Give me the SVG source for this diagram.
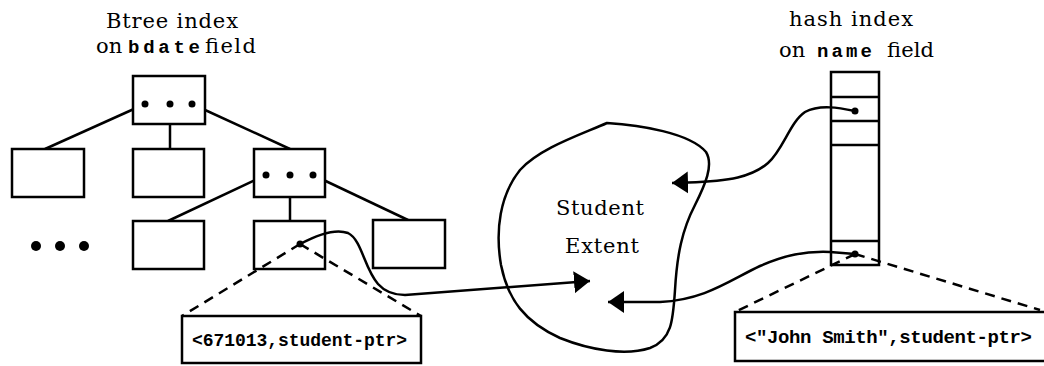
<svg xmlns="http://www.w3.org/2000/svg" width="1044" height="366" viewBox="0 0 1044 366">
<style>
  .box { fill: #fff; stroke: #000; stroke-width: 2.5; }
  .ln { fill: none; stroke: #000; stroke-width: 2.5; }
  .dash { fill: none; stroke: #000; stroke-width: 2.5; stroke-dasharray: 10 7; }
  .dot { fill: #000; }
  .serif { font-family: "DejaVu Serif", "Liberation Serif", serif; font-size: 21px; fill: #000; }
  .mono { font-family: "Liberation Mono", "DejaVu Sans Mono", monospace; font-weight: bold; fill: #000; }
</style>
<defs>
  <marker id="arr" markerUnits="userSpaceOnUse" markerWidth="18" markerHeight="24" refX="16" refY="11" orient="auto">
    <path d="M0,0 L16,11 L0,22 Z" fill="#000"/>
  </marker>
</defs>

<g id="btree-title">
  <text class="serif" x="106" y="28" textLength="132" lengthAdjust="spacing">Btree index</text>
  <text class="serif" x="96" y="53">on</text>
  <text class="mono" x="128" y="53" font-size="19" textLength="72" lengthAdjust="spacing">bdate</text>
  <text class="serif" x="205" y="53" textLength="51" lengthAdjust="spacing">field</text>
</g>

<g id="hash-title">
  <text class="serif" x="789" y="26" textLength="124" lengthAdjust="spacing">hash index</text>
  <text class="serif" x="779" y="57">on</text>
  <text class="mono" x="817" y="57" font-size="19" textLength="55" lengthAdjust="spacing">name</text>
  <text class="serif" x="887" y="57" textLength="47" lengthAdjust="spacing">field</text>
</g>

<g id="connectors">
  <line class="ln" x1="145" y1="104" x2="45" y2="149"/>
  <line class="ln" x1="170" y1="104" x2="170" y2="149"/>
  <line class="ln" x1="192" y1="104" x2="290" y2="149"/>
  <line class="ln" x1="266" y1="175" x2="168" y2="221"/>
  <line class="ln" x1="290" y1="175" x2="290" y2="221"/>
  <line class="ln" x1="313" y1="175" x2="408" y2="220"/>
  <path class="ln" d="M300,244 C315,236 335,228 348,233 C362,240 364,268 378,284 C386,293 395,295 405,295 L590,281" marker-end="url(#arr)"/>
  <path class="ln" d="M855,111 C840,108 820,104 805,112 C790,122 783,150 768,163 C752,177 730,181 688,182.5 L672,183" marker-end="url(#arr)"/>
  <path class="ln" d="M855,254 L830,252 C805,251 785,255 760,266 C730,280 705,300 660,302 L608,302" marker-end="url(#arr)"/>
  <line class="dash" x1="300" y1="244" x2="182" y2="316"/>
  <line class="dash" x1="300" y1="244" x2="421" y2="316"/>
  <line class="dash" x1="855" y1="254" x2="735" y2="312"/>
  <line class="dash" x1="855" y1="254" x2="1040" y2="310"/>
</g>

<g id="root">
  <rect class="box" x="133" y="76" width="72" height="48"/>
  <circle class="dot" cx="145" cy="104" r="3.5"/>
  <circle class="dot" cx="170" cy="104" r="3.5"/>
  <circle class="dot" cx="192" cy="104" r="3.5"/>
</g>
<g id="l2-left"><rect class="box" x="12" y="149" width="72" height="48"/></g>
<g id="l2-mid"><rect class="box" x="133" y="149" width="71" height="48"/></g>
<g id="l2-right">
  <rect class="box" x="254" y="149" width="71" height="48"/>
  <circle class="dot" cx="266" cy="175" r="3.5"/>
  <circle class="dot" cx="290" cy="175" r="3.5"/>
  <circle class="dot" cx="313" cy="175" r="3.5"/>
</g>
<g id="ellipsis">
  <circle class="dot" cx="36" cy="246" r="5"/>
  <circle class="dot" cx="60" cy="246" r="5"/>
  <circle class="dot" cx="84" cy="246" r="5"/>
</g>
<g id="l3-a"><rect class="box" x="133" y="221" width="71" height="48"/></g>
<g id="l3-b">
  <rect class="ln" x="254" y="221" width="71" height="48"/>
  <circle class="dot" cx="300" cy="244" r="3.5"/>
</g>
<g id="l3-c"><rect class="box" x="373" y="220" width="72" height="48"/></g>

<g id="btree-entry">
  <rect class="box" x="182" y="316" width="239" height="47"/>
  <text class="mono" x="192" y="346" font-size="18" textLength="215" lengthAdjust="spacing">&lt;671013,student-ptr&gt;</text>
</g>

<g id="student-extent">
  <path class="ln" d="M607,123 C640,125 690,133 706,152 C714,165 705,185 695,205 C682,230 677,255 675,290 C673,320 672,340 650,348 C625,356 590,350 560,338 C525,322 508,300 501,265 C495,230 500,195 520,170 C540,148 580,135 607,123 Z"/>
  <text class="serif" x="556" y="215" textLength="88" lengthAdjust="spacing">Student</text>
  <text class="serif" x="565" y="253" textLength="74" lengthAdjust="spacing">Extent</text>
</g>

<g id="hash-index">
  <rect class="ln" x="831" y="72" width="48" height="193"/>
  <line class="ln" x1="831" y1="97" x2="879" y2="97"/>
  <line class="ln" x1="831" y1="121" x2="879" y2="121"/>
  <line class="ln" x1="831" y1="145" x2="879" y2="145"/>
  <line class="ln" x1="831" y1="241" x2="879" y2="241"/>
  <circle class="dot" cx="855" cy="111" r="3.5"/>
  <circle class="dot" cx="855" cy="254" r="3.5"/>
</g>

<g id="hash-entry">
  <rect class="box" x="735" y="312" width="320" height="49"/>
  <text class="mono" x="745" y="343" font-size="19" textLength="287" lengthAdjust="spacing">&lt;"John Smith",student-ptr&gt;</text>
</g>
</svg>
